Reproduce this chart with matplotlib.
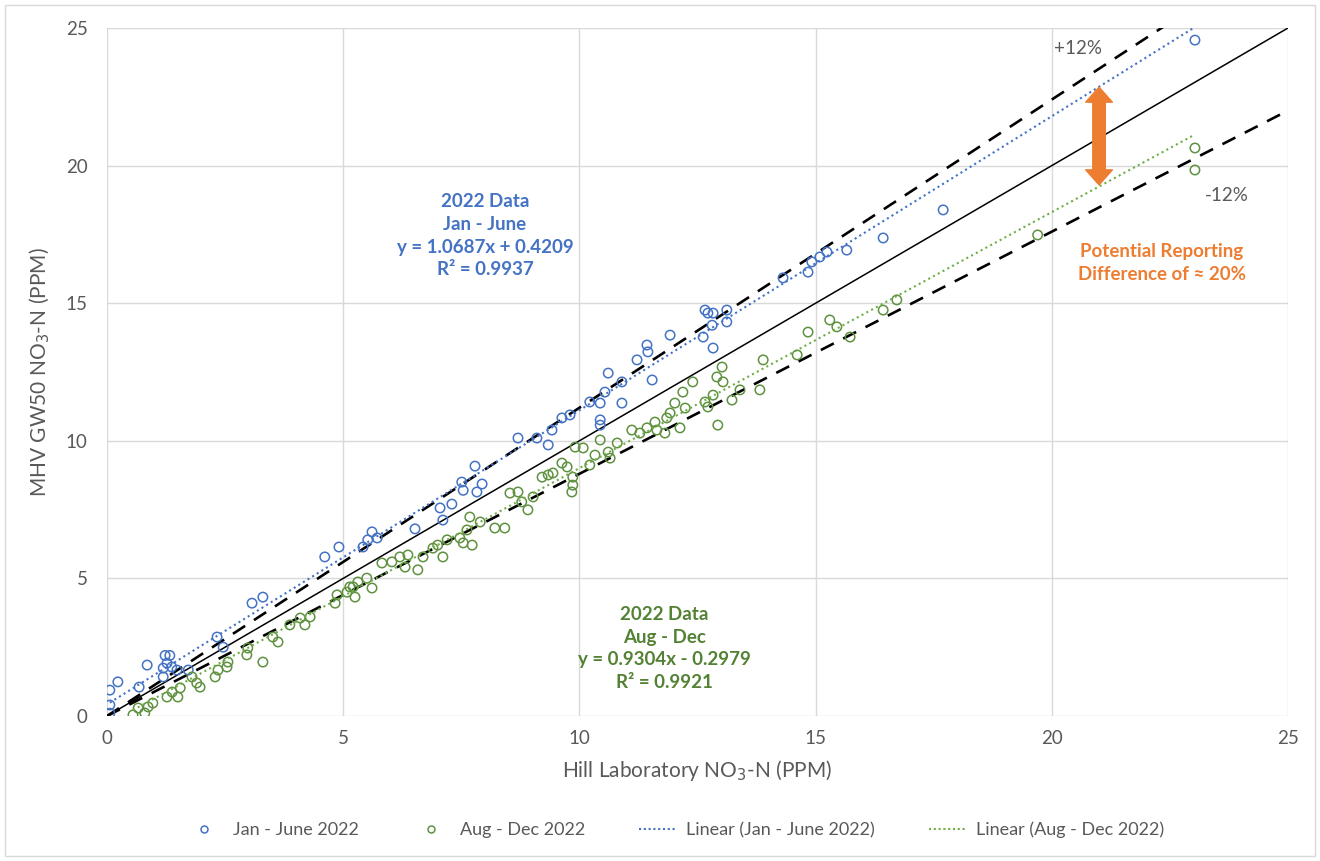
import numpy as np
import matplotlib
matplotlib.use("Agg")
import matplotlib.pyplot as plt
from matplotlib.patches import FancyArrowPatch, Rectangle
from matplotlib.lines import Line2D

plt.rcParams['font.family'] = ['Lato', 'DejaVu Sans']

# Hill Laboratory vs MHV GW50 nitrate readings (ppm)
jan_jun_x = [0.06, 0.06, 0.06, 0.23, 0.68, 0.85, 1.19, 1.23, 1.33, 1.27, 1.37, 1.48, 1.19, 1.72,
             2.33, 2.46, 3.07, 3.30, 4.61, 4.91, 5.42, 5.52, 5.61, 5.72, 6.52, 7.05, 7.11, 7.30,
             7.51, 7.54, 7.79, 7.83, 7.94, 8.70, 9.10, 9.34, 9.42, 9.63, 9.80, 10.22, 10.44,
             10.44, 10.44, 10.54, 10.61, 10.90, 10.90, 11.22, 11.43, 11.45, 11.54, 11.92, 12.62,
             12.83, 12.66, 12.72, 12.83, 12.81, 13.12, 13.12, 14.31, 14.84, 14.92, 15.09, 15.24,
             15.66, 16.43, 17.70, 23.03]
jan_jun_y = [0.10, 0.40, 0.94, 1.24, 1.05, 1.85, 1.42, 2.20, 2.20, 1.92, 1.78, 1.67, 1.74, 1.67,
             2.87, 2.50, 4.10, 4.32, 5.78, 6.14, 6.14, 6.40, 6.69, 6.47, 6.80, 7.56, 7.12, 7.70,
             8.50, 8.20, 9.08, 8.14, 8.43, 10.10, 10.10, 9.85, 10.39, 10.83, 10.94, 11.41, 11.37,
             10.76, 10.57, 11.77, 12.46, 11.37, 12.14, 12.94, 13.48, 13.23, 12.21, 13.84, 13.77,
             13.37, 14.75, 14.64, 14.64, 14.20, 14.75, 14.32, 15.92, 16.13, 16.50, 16.68, 16.86,
             16.93, 17.37, 18.39, 24.56]

aug_dec_x = [0.55, 0.66, 0.80, 0.87, 0.97, 1.27, 1.38, 1.50, 1.55, 1.80, 1.90, 1.97, 2.29, 2.35,
             2.54, 2.56, 2.96, 2.98, 3.30, 3.51, 3.62, 3.87, 4.09, 4.19, 4.30, 4.83, 4.87, 5.08,
             5.25, 5.21, 5.14, 5.31, 5.50, 5.61, 5.82, 6.03, 6.20, 6.31, 6.37, 6.58, 6.69, 6.90,
             7.00, 7.11, 7.20, 7.47, 7.54, 7.73, 7.62, 7.68, 7.90, 8.21, 8.42, 8.53, 8.70, 8.78,
             8.91, 9.02, 9.21, 9.34, 9.44, 9.63, 9.74, 9.86, 9.86, 9.84, 9.91, 10.08, 10.22,
             10.33, 10.44, 10.61, 10.65, 10.80, 11.11, 11.28, 11.43, 11.60, 11.64, 11.81, 11.85,
             12.02, 11.92, 12.13, 12.19, 12.24, 12.40, 12.66, 12.72, 12.83, 12.93, 12.91, 13.04,
             13.02, 13.23, 13.40, 13.82, 13.89, 14.61, 14.84, 15.30, 15.45, 15.73, 16.43, 16.72,
             19.70, 23.03, 23.03]
aug_dec_y = [0.04, 0.29, 0.11, 0.33, 0.47, 0.69, 0.87, 0.69, 1.02, 1.42, 1.20, 1.05, 1.42, 1.67,
             1.78, 1.96, 2.22, 2.47, 1.96, 2.87, 2.69, 3.31, 3.56, 3.31, 3.60, 4.10, 4.40, 4.50,
             4.32, 4.69, 4.69, 4.87, 5.01, 4.65, 5.56, 5.60, 5.78, 5.41, 5.85, 5.31, 5.78, 6.10,
             6.21, 5.78, 6.40, 6.47, 6.29, 6.21, 6.76, 7.23, 7.05, 6.83, 6.83, 8.10, 8.14, 7.78,
             7.49, 7.96, 8.68, 8.76, 8.83, 9.19, 9.05, 8.68, 8.39, 8.14, 9.77, 9.74, 9.12,
             9.48, 10.03, 9.59, 9.37, 9.92, 10.39, 10.28, 10.47, 10.68, 10.39, 10.28, 10.83,
             11.37, 11.01, 10.47, 11.77, 11.19, 12.14, 11.41, 11.23, 11.66, 10.57, 12.32, 12.14,
             12.68, 11.48, 11.85, 11.85, 12.94, 13.12, 13.95, 14.39, 14.14, 13.77, 14.75, 15.12,
             17.48, 20.64, 19.84]

# Linear trend coefficients (slope, intercept, R²)
jan_jun_fit = (1.0687, 0.4209, 0.9937)
aug_dec_fit = (0.9304, -0.2979, 0.9921)
tolerance = 0.12

ticks = [0, 5, 10, 15, 20, 25]

BLUE = '#4472C4'
GREEN = '#5F9140'
GREEN_LINE = '#70AD47'
ORANGE = '#ED7D31'
GRAY_TXT = '#595959'

fig = plt.figure(figsize=(13.2, 8.61), dpi=100)
ax = fig.add_axes([107 / 1320, 1 - 716 / 861, (1288 - 107) / 1320, (716 - 28) / 861])

ax.set_xlim(0, 25)
ax.set_ylim(0, 25)
ax.set_xticks(ticks)
ax.set_yticks(ticks)
ax.grid(True, color='#D9D9D9', linewidth=1.0, zorder=0)
ax.set_axisbelow(True)
for s in ax.spines.values():
    s.set_visible(False)
ax.tick_params(length=0, labelsize=13.5, labelcolor=GRAY_TXT)
ax.tick_params(axis='x', pad=10)
ax.tick_params(axis='y', pad=14)

# 1:1 line and ±12% envelope
xr = np.array([0, 25])
ax.plot(xr, xr, color='black', linewidth=1.1, zorder=2)
ax.plot(xr, xr * (1 + tolerance), color='black', linewidth=1.9,
        linestyle=(0, (5.5, 4)), zorder=2)
ax.plot(xr, xr * (1 - tolerance), color='black', linewidth=1.9,
        linestyle=(0, (5.5, 4)), zorder=2)

# Scatter series
ax.scatter(jan_jun_x, jan_jun_y, s=46, facecolors='none', edgecolors=BLUE,
           linewidths=1.1, zorder=3)
ax.scatter(aug_dec_x, aug_dec_y, s=46, facecolors='none', edgecolors=GREEN,
           linewidths=1.1, zorder=3)

# Trend lines over each series' range
bx = np.array([min(jan_jun_x), max(jan_jun_x)])
gx = np.array([min(aug_dec_x), max(aug_dec_x)])
ax.plot(bx, jan_jun_fit[0] * bx + jan_jun_fit[1], color=BLUE, linewidth=1.5,
        linestyle=(0, (1, 1.6)), zorder=4)
ax.plot(gx, aug_dec_fit[0] * gx + aug_dec_fit[1], color=GREEN_LINE, linewidth=1.5,
        linestyle=(0, (1, 1.6)), zorder=4)

# Equation labels
ax.text(8.0, 17.45,
        "2022 Data\nJan - June\ny = %.4fx + %.4f\nR² = %.4f" % jan_jun_fit,
        color=BLUE, fontsize=13.5, fontweight='bold', ha='center', va='center',
        linespacing=1.4)
ax.text(11.8, 2.45,
        "2022 Data\nAug - Dec\ny = %.4fx - %.4f\nR² = %.4f" % (aug_dec_fit[0], -aug_dec_fit[1], aug_dec_fit[2]),
        color='#548235', fontsize=13.5, fontweight='bold', ha='center', va='center',
        linespacing=1.4)

ax.text(20.55, 24.25, "+12%", color=GRAY_TXT, fontsize=13.5, ha='center', va='center')
ax.text(23.7, 18.9, "-12%", color=GRAY_TXT, fontsize=13.5, ha='center', va='center')

# Double-headed arrow showing the spread between envelopes
arrow_kw = dict(arrowstyle="simple,head_width=1.6,head_length=0.9,tail_width=0.75",
                color=ORANGE, mutation_scale=12, zorder=5, shrinkA=0, shrinkB=0)
mid = (22.85 + 19.3) / 2
ax.add_patch(FancyArrowPatch((21.0, mid), (21.0, 22.85), **arrow_kw))
ax.add_patch(FancyArrowPatch((21.0, mid), (21.0, 19.3), **arrow_kw))
ax.text(22.33, 16.45, "Potential Reporting\nDifference of ≈ 20%", color=ORANGE,
        fontsize=13.5, fontweight='bold', ha='center', va='center', linespacing=1.4)

ax.set_xlabel("Hill Laboratory NO$_3$-N (PPM)", fontsize=15, color=GRAY_TXT, labelpad=8)
ax.set_ylabel("MHV GW50 NO$_3$-N (PPM)", fontsize=15, color=GRAY_TXT, labelpad=10)

# Legend along the bottom
handles = [
    Line2D([], [], linestyle='none', marker='o', markersize=5, markerfacecolor='none',
           markeredgecolor=BLUE, markeredgewidth=1.1),
    Line2D([], [], linestyle='none', marker='o', markersize=5, markerfacecolor='none',
           markeredgecolor=GREEN, markeredgewidth=1.1),
    Line2D([], [], color=BLUE, linewidth=1.5, linestyle=(0, (1, 1.3))),
    Line2D([], [], color=GREEN_LINE, linewidth=1.5, linestyle=(0, (1, 1.3))),
]
labels = ["Jan - June 2022", "Aug - Dec 2022", "Linear (Jan - June 2022)", "Linear (Aug - Dec 2022)"]
fig.legend(handles, labels, loc='center', bbox_to_anchor=(675 / 1320, 1 - 830 / 861), ncol=4,
           frameon=False, fontsize=13, labelcolor=GRAY_TXT, columnspacing=3.0,
           handlelength=2.0, handletextpad=0.6)

# Chart border
fig.patches.append(Rectangle((5 / 1320, 5 / 861), 1 - 10 / 1320, 1 - 10 / 861,
                             transform=fig.transFigure, fill=False,
                             edgecolor='#D9D9D9', linewidth=1.0))

fig.savefig("out.png", dpi=100)
